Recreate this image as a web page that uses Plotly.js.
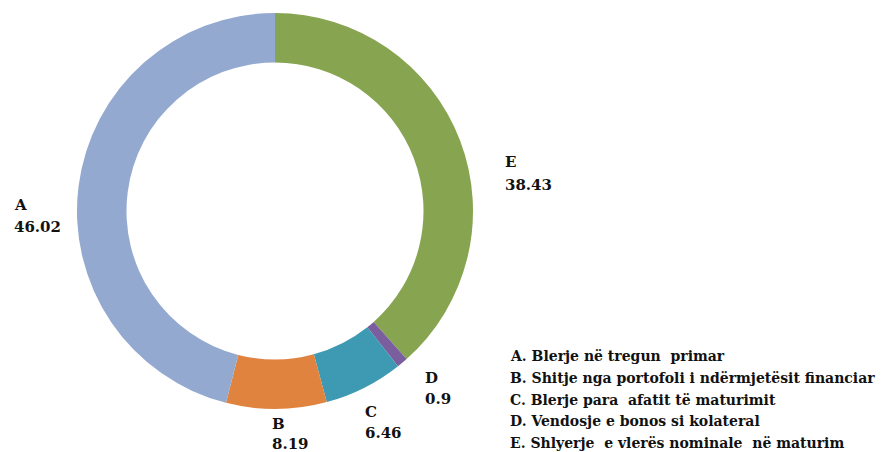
<!DOCTYPE html>
<html>
<head>
<meta charset="utf-8">
<script src="https://cdn.plot.ly/plotly-3.0.1.min.js"></script>
<style>html,body{margin:0;padding:0;background:#fff;}#chart{width:885px;height:452px;}</style>
</head>
<body>
<div id="chart"></div>
<script>
// Data (order drawn clockwise from 12 o'clock)
const codes = ['E', 'D', 'C', 'B', 'A'];
const values = [38.43, 0.9, 6.46, 8.19, 46.02];
const valueLabels = ['38.43', '0.9', '6.46', '8.19', '46.02'];
const legendLines = [
  'A. Blerje në tregun  primar',
  'B. Shitje nga portofoli i ndërmjetësit financiar',
  'C. Blerje para  afatit të maturimit',
  'D. Vendosje e bonos si kolateral',
  'E. Shlyerje  e vlerës nominale  në maturim'
];

// Styling / layout (not data)
const colors = ['#87A550', '#7B5E9E', '#3E9AB2', '#E0833F', '#94A9D0'];
const W = 885, H = 452;
const px = x => x / W;
const py = y => 1 - y / H;
// label positions (pixels): [x, yLetter, yValue]
const labelPos = {
  E: [503, 162, 185],
  D: [423, 378, 399],
  C: [363, 412, 433],
  B: [270, 424, 444],
  A: [12, 205, 227]
};
const legendX = 508;
const legendY = [356, 378, 400, 421, 443];
const fontFam = '"DejaVu Serif", "Liberation Serif", serif';

const annotations = [];
codes.forEach((c, i) => {
  const p = labelPos[c];
  annotations.push({xref: 'paper', yref: 'paper', x: px(p[0]), y: py(p[1]), xanchor: 'left', yanchor: 'middle',
    text: '<b>' + c + '</b>', showarrow: false, font: {family: fontFam, size: 15, color: '#111'}});
  annotations.push({xref: 'paper', yref: 'paper', x: px(p[0]), y: py(p[2]), xanchor: 'left', yanchor: 'middle',
    text: '<b>' + valueLabels[i] + '</b>', showarrow: false, font: {family: fontFam, size: 15, color: '#111'}});
});
legendLines.forEach((t, i) => {
  annotations.push({xref: 'paper', yref: 'paper', x: px(legendX), y: py(legendY[i]), xanchor: 'left', yanchor: 'middle',
    text: '<b>' + t + '</b>', showarrow: false, font: {family: fontFam, size: 14, color: '#111'}});
});

const trace = {
  type: 'pie',
  labels: codes,
  values: values,
  hole: 0.75,
  sort: false,
  direction: 'clockwise',
  rotation: 0,
  textinfo: 'none',
  hoverinfo: 'label+value',
  marker: {colors: colors, line: {width: 0}},
  domain: {x: [px(77), px(473)], y: [py(409), py(13)]},
  showlegend: false
};

Plotly.newPlot('chart', [trace], {
  width: W, height: H,
  margin: {l: 0, r: 0, t: 0, b: 0},
  paper_bgcolor: '#fff',
  showlegend: false,
  annotations: annotations
}, {displayModeBar: false, staticPlot: true});
</script>
</body>
</html>
